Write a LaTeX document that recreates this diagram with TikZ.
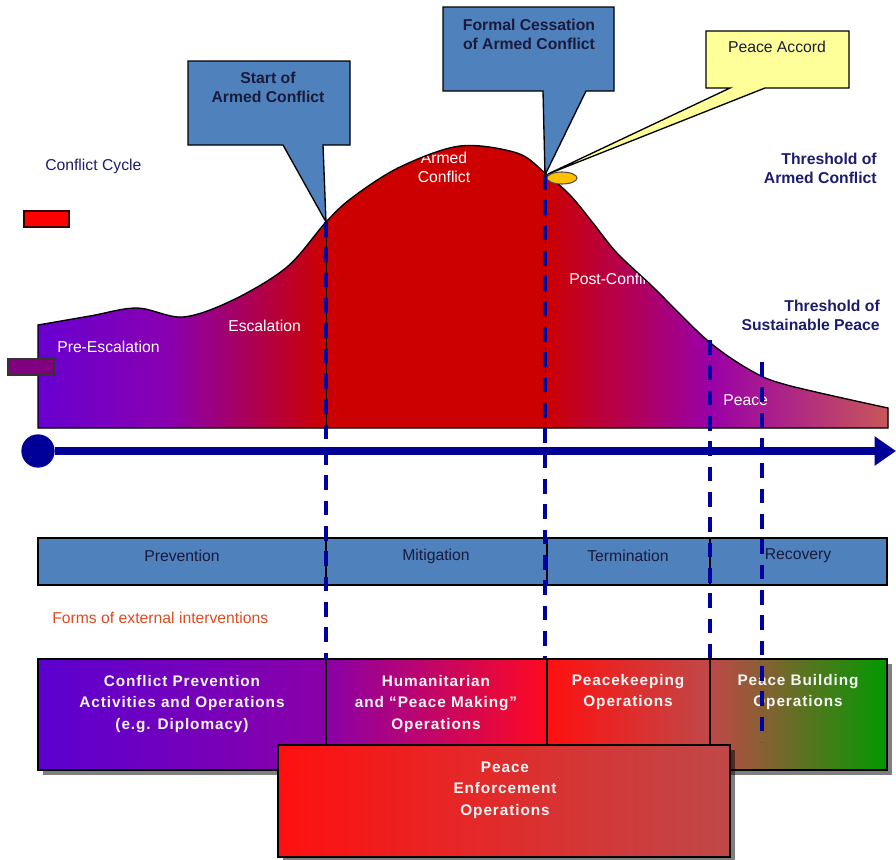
\documentclass[tikz,border=0pt]{standalone}
\usepackage{fontspec}
\setmainfont{Liberation Sans}
\usetikzlibrary{arrows.meta}
\definecolor{cbBlue}{HTML}{4F81BD}
\definecolor{cYel}{HTML}{FFFF99}
\definecolor{cGold}{HTML}{FFC000}
\definecolor{cRed}{HTML}{CC0000}
\definecolor{cPurA}{HTML}{6800D0}
\definecolor{cPurB}{HTML}{8A00B0}
\definecolor{cMag}{HTML}{9A00A8}
\definecolor{cBrown}{HTML}{C85858}
\definecolor{dBlue}{HTML}{0000A0}
\definecolor{tlBlue}{HTML}{000099}
\definecolor{navyT}{HTML}{1C1C6C}
\definecolor{darkT}{HTML}{1A1A3A}
\definecolor{orangeT}{HTML}{E04A20}
\definecolor{bxA}{HTML}{5C00D0}
\definecolor{bxB}{HTML}{8A00A8}
\definecolor{bxC}{HTML}{FF0A20}
\definecolor{bxD}{HTML}{FF1010}
\definecolor{bxE}{HTML}{C04848}
\definecolor{bxG}{HTML}{009900}
\definecolor{wT}{HTML}{F4F4F4}
\definecolor{legPur}{HTML}{800080}
\newcommand\fsA{\fontsize{11.8}{14.2}\selectfont}
\newcommand\fsB{\fontsize{11.5}{16.2}\selectfont\bfseries\addfontfeature{LetterSpace=6}}
\tikzset{
  curvepath/.style={insert path={(38,428) -- plot[smooth,tension=0.55] coordinates {(38,325) (90,316) (137,308) (183,317) (233,300) (287,267) (326,222) (353,197) (400,167) (460,146) (517,153) (545,173) (570,195) (593,223) (617,253) (653,287) (707,340) (750,370) (787,385) (888,408)} -- (888,428) -- cycle}},
  txt/.style={inner sep=0pt, font=\fsA, align=center},
  wtxt/.style={txt, text=white},
  btxt/.style={txt, text=navyT, font=\fsA\bfseries},
  ctxt/.style={txt, text=darkT, font=\fsA\bfseries},
  ptxt/.style={txt, text=darkT},
  itxt/.style={inner sep=0pt, font=\fsB, align=center, text=wT},
  phasebox/.style={fill=cbBlue, draw=black, line width=1pt},
  ibox/.style={draw=black, line width=1.1pt},
  shadowfill/.style={fill=black, opacity=0.5},
  dline/.style={draw=dBlue, line width=2.8pt, dash pattern=on 11pt off 8pt},
  callout/.style={draw=black, line width=1pt, line join=miter},
}
\begin{document}
\begin{tikzpicture}[x=0.75pt,y=-0.75pt]
\useasboundingbox (0,0) rectangle (896,860);

% ---- conflict curve ----
\begin{scope}
  \clip[curvepath];
  \fill[left color=cPurA, right color=cPurB] (38,140) rectangle (170,430);
  \fill[left color=cPurB, right color=cRed] (169.5,140) rectangle (326,430);
  \fill[cRed] (325.5,140) rectangle (545.5,430);
  \fill[left color=cRed, right color=cMag] (545,140) rectangle (710.5,430);
  \fill[left color=cMag, right color=cBrown] (710,140) rectangle (890,430);
\end{scope}
\draw[black, line width=0.6pt] (326,222) -- (326,428) (545,173) -- (545,428);

\node[wtxt, anchor=west] (preesc) at (57,347) {Pre-Escalation};
\node[wtxt, anchor=west] (esc) at (228,326) {Escalation};
\node[wtxt] (armed) at (444,167) {Armed\\Conflict};
\node[wtxt, anchor=west] (post) at (569,279) {Post-Conflict};
\node[wtxt, anchor=west] (peace) at (723,400) {Peace};

\draw[black, line width=1pt, curvepath];

% ---- legend marks ----
\node[txt, text=navyT, anchor=west] (cycle) at (45,166) {Conflict Cycle};
\draw[fill=red, draw=black!80!red, line width=1pt] (24,211) rectangle (69,227);
\draw[fill=legPur, draw=black!80, line width=1pt] (8,359) rectangle (54,375);

\node[btxt, anchor=east, align=right] (thrA) at (877,168) {Threshold of\\Armed Conflict};
\node[btxt, anchor=east, align=right] (thrS) at (880,315) {Threshold of\\Sustainable Peace};

% ---- timeline ----
\node[circle, fill=tlBlue, inner sep=0pt, minimum size=25pt] (tl0) at (38,451) {};
\coordinate (tl1) at (896,451);
\draw[tlBlue, line width=6pt, -{Triangle[length=16pt,width=21pt]}] (tl0) -- (tl1);

% ---- phases ----
\draw[phasebox] (38,538) rectangle (326,585);
\draw[phasebox] (326,538) rectangle (547,585);
\draw[phasebox] (547,538) rectangle (710,585);
\draw[phasebox] (710,538) rectangle (887,585);
\node[ptxt] (prev) at (182,556) {Prevention};
\node[ptxt] (miti) at (436,556) {Mitigation};
\node[ptxt] (term) at (628,556) {Termination};
\node[ptxt] (reco) at (798,556) {Recovery};

\node[txt, text=orangeT, anchor=west] (forms) at (52,618) {Forms of external interventions};

% ---- intervention boxes ----
\fill[shadowfill] (43,664) rectangle (892,775);
\draw[ibox, left color=bxA, right color=bxB] (38,659) rectangle (326,770);
\draw[ibox, left color=bxB, right color=bxC] (326,659) rectangle (547,770);
\draw[ibox, left color=bxD, right color=bxE] (547,659) rectangle (710,770);
\draw[ibox, left color=bxE, right color=bxG] (710,659) rectangle (887,770);
\node[itxt] (cp) at (182,704) {Conflict Prevention\\Activities and Operations\\(e.g. Diplomacy)};
\node[itxt] (hum) at (436,704) {Humanitarian\\and “Peace Making”\\Operations};
\node[itxt] (pk) at (628,692) {Peacekeeping\\Operations};
\node[itxt] (pb) at (798,692) {Peace Building\\Operations};

% ---- dashed phase lines ----
\coordinate (d1t) at (326,222); \coordinate (d1b) at (326,660);
\coordinate (d2t) at (545,175); \coordinate (d2b) at (545,658);
\coordinate (d3t) at (710,340); \coordinate (d3b) at (710,658);
\coordinate (d4t) at (762,362); \coordinate (d4b) at (762,742);
\draw[dline] (d1t) -- (d1b);
\draw[dline] (d2t) -- (d2b);
\draw[dline] (d3t) -- (d3b);
\draw[dline] (d4t) -- (d4b);

% ---- peace enforcement ----
\fill[shadowfill] (283,750) rectangle (735,861);
\draw[ibox, left color=bxD, right color=bxE] (278,745) rectangle (730,857);
\node[itxt] (pe) at (505,790) {Peace\\Enforcement\\Operations};

% ---- callouts ----
\draw[fill=cGold, draw=black!70, line width=0.8pt] (562,178) ellipse (15 and 6);
\draw[callout, fill=cYel] (706,31) -- (849,31) -- (849,88) -- (765,88) -- (548,174) -- (730,88) -- (706,88) -- cycle;
\node[txt, text=darkT] (accord) at (777,47) {Peace Accord};
\draw[callout, fill=cbBlue] (188,61) -- (350,61) -- (350,145) -- (323,145) -- (326,222) -- (283,145) -- (188,145) -- cycle;
\node[ctxt] (start) at (268,87) {Start of\\Armed Conflict};
\draw[callout, fill=cbBlue] (443,7) -- (614,7) -- (614,91) -- (586,91) -- (545,175) -- (543,91) -- (443,91) -- cycle;
\node[ctxt] (formal) at (529,34) {Formal Cessation\\of Armed Conflict};
\end{tikzpicture}
\end{document}
